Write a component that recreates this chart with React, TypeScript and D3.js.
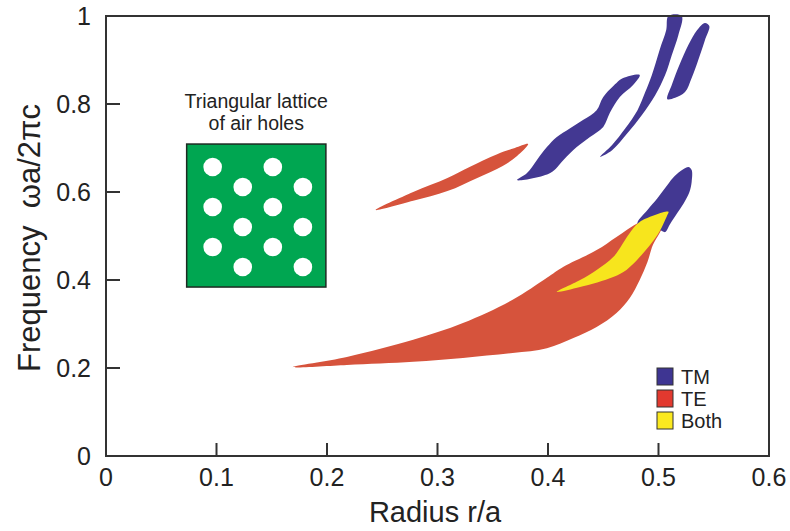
import React from 'react';
import * as d3 from 'd3';

// gap map regions, [r/a, ωa/2πc]
const teLower: [number, number][] = [
  [0.169, 0.202], [0.218, 0.225], [0.278, 0.264], [0.323, 0.302], [0.368, 0.355],
  [0.399, 0.405], [0.414, 0.43], [0.444, 0.468], [0.462, 0.498], [0.483, 0.532],
  [0.509, 0.555], [0.507, 0.536], [0.501, 0.507], [0.495, 0.48], [0.49, 0.441],
  [0.483, 0.4], [0.474, 0.359], [0.462, 0.325], [0.444, 0.293], [0.423, 0.268],
  [0.399, 0.245], [0.368, 0.234], [0.323, 0.223], [0.278, 0.214], [0.218, 0.207],
];
const teUpper: [number, number][] = [
  [0.244, 0.559], [0.278, 0.6], [0.309, 0.632], [0.329, 0.657], [0.354, 0.686],
  [0.37, 0.7], [0.382, 0.709], [0.372, 0.682], [0.359, 0.659], [0.336, 0.632],
  [0.309, 0.602], [0.278, 0.58],
];
const tmMiddle: [number, number][] = [
  [0.372, 0.627], [0.402, 0.643], [0.414, 0.673], [0.426, 0.702], [0.438, 0.725],
  [0.45, 0.748], [0.456, 0.78], [0.465, 0.816], [0.477, 0.843], [0.483, 0.866],
  [0.468, 0.859], [0.462, 0.848], [0.45, 0.816], [0.444, 0.786], [0.432, 0.764],
  [0.42, 0.745], [0.408, 0.725], [0.399, 0.702], [0.39, 0.673], [0.381, 0.643],
];
const tmStrandA: [number, number][] = [
  [0.447, 0.68], [0.458, 0.707], [0.47, 0.745], [0.481, 0.786], [0.488, 0.827],
  [0.494, 0.866], [0.501, 0.923], [0.507, 0.968], [0.509, 1.0], [0.521, 1.0],
  [0.518, 0.957], [0.512, 0.911], [0.506, 0.866], [0.497, 0.82], [0.485, 0.775],
  [0.472, 0.734], [0.458, 0.695],
];
const tmStrandB: [number, number][] = [
  [0.508, 0.811], [0.512, 0.843], [0.519, 0.889], [0.527, 0.934], [0.535, 0.968],
  [0.542, 0.984], [0.546, 0.977], [0.542, 0.945], [0.536, 0.9], [0.53, 0.859],
  [0.524, 0.827], [0.515, 0.814],
];
const tmLower: [number, number][] = [
  [0.481, 0.527], [0.49, 0.559], [0.499, 0.586], [0.506, 0.609], [0.513, 0.632],
  [0.52, 0.648], [0.527, 0.657], [0.53, 0.65], [0.53, 0.623], [0.528, 0.6],
  [0.523, 0.575], [0.517, 0.552], [0.51, 0.525], [0.506, 0.509], [0.501, 0.514],
];
const both: [number, number][] = [
  [0.408, 0.373], [0.429, 0.384], [0.459, 0.407], [0.471, 0.423], [0.483, 0.452],
  [0.499, 0.502], [0.508, 0.548], [0.509, 0.555], [0.483, 0.532], [0.474, 0.507],
  [0.459, 0.452], [0.444, 0.423], [0.429, 0.4],
];

const xTicks = [0, 0.1, 0.2, 0.3, 0.4, 0.5, 0.6];
const yTicks = [0, 0.2, 0.4, 0.6, 0.8, 1];
const yTickLabels = ['0', '0.2', '0.4', '0.6', '0.8', '1'];

const legendItems = [
  { label: 'TM', color: '#3e3592' },
  { label: 'TE', color: '#e2392f' },
  { label: 'Both', color: '#fbe920' },
];

// inset: lattice of holes (column, row) in the green square
const holeCols = [0, 1, 2, 3];
const holeRows = [0, 1, 2, 3, 4, 5];

const W = 790;
const H = 531;
const font = '"Liberation Sans", Arial, sans-serif';

export default function App() {
  const x = d3.scaleLinear().domain([0, 0.6]).range([106, 769]);
  const y = d3.scaleLinear().domain([0, 1]).range([456, 16]);

  const area = d3
    .line<[number, number]>()
    .x((d) => x(d[0]))
    .y((d) => y(d[1]))
    .curve(d3.curveCatmullRomClosed.alpha(0.5));

  const teColor = '#d6533c';
  const tmColor = '#433892';
  const bothColor = '#f7e51d';

  // inset square in data units
  const box = { r0: 0.073, r1: 0.199, f0: 0.384, f1: 0.709 };
  const bx0 = x(box.r0);
  const bx1 = x(box.r1);
  const by0 = y(box.f1);
  const by1 = y(box.f0);
  const hx = d3.scaleLinear().domain([0, 3]).range([bx0 + 26, bx1 - 23]);
  const hy = d3.scaleLinear().domain([0, 5]).range([by0 + 23, by1 - 20]);
  const holes: { cx: number; cy: number }[] = [];
  holeRows.forEach((r) => {
    holeCols.forEach((c) => {
      if ((c + r) % 2 === 0) holes.push({ cx: hx(c), cy: hy(r) });
    });
  });

  return (
    <svg
      width={W}
      height={H}
      style={{ position: 'absolute', left: 0, top: 0, background: '#fff' }}
      fontFamily={font}
    >
      <rect width={W} height={H} fill="#fff" />

      {/* regions */}
      <path d={area(teLower) || ''} fill={teColor} />
      <path d={area(teUpper) || ''} fill={teColor} />
      <path d={area(tmMiddle) || ''} fill={tmColor} />
      <path d={area(tmStrandA) || ''} fill={tmColor} />
      <path d={area(tmStrandB) || ''} fill={tmColor} />
      <path d={area(tmLower) || ''} fill={tmColor} />
      <path d={area(both) || ''} fill={bothColor} />

      {/* frame */}
      <rect
        x={x(0)}
        y={y(1)}
        width={x(0.6) - x(0)}
        height={y(0) - y(1)}
        fill="none"
        stroke="#333"
        strokeWidth={2}
      />
      {yTicks.filter((t) => t > 0 && t < 1).map((t) => (
        <line key={'yt' + t} x1={x(0)} x2={x(0) + 14} y1={y(t)} y2={y(t)} stroke="#333" strokeWidth={2} />
      ))}
      {xTicks.filter((t) => t > 0 && t < 0.6).map((t) => (
        <line key={'xt' + t} x1={x(t)} x2={x(t)} y1={y(0)} y2={y(0) - 13} stroke="#333" strokeWidth={2} />
      ))}

      {/* tick labels */}
      {yTicks.map((t, i) => (
        <text key={'yl' + t} x={91} y={y(t)} dy="0.36em" textAnchor="end" fontSize={25} fill="#222">
          {yTickLabels[i]}
        </text>
      ))}
      {xTicks.map((t) => (
        <text key={'xl' + t} x={x(t)} y={486} textAnchor="middle" fontSize={25} fill="#222">
          {String(t)}
        </text>
      ))}

      {/* axis titles */}
      <text x={435} y={522} textAnchor="middle" fontSize={29} fill="#222">
        Radius r/a
      </text>
      <text
        transform={`translate(40,238) rotate(-90)`}
        textAnchor="middle"
        fontSize={31}
        fill="#222"
      >
        Frequency{'\u00a0\u00a0'}ωa/2πc
      </text>

      {/* inset */}
      <text x={(bx0 + bx1) / 2} y={108} textAnchor="middle" fontSize={19.5} fill="#222">
        Triangular lattice
      </text>
      <text x={(bx0 + bx1) / 2} y={130} textAnchor="middle" fontSize={19.5} fill="#222">
        of air holes
      </text>
      <rect x={bx0} y={by0} width={bx1 - bx0} height={by1 - by0} fill="#00a651" stroke="#1e2a22" strokeWidth={1.5} />
      {holes.map((h, i) => (
        <circle key={'h' + i} cx={h.cx} cy={h.cy} r={9.3} fill="#fff" />
      ))}

      {/* legend */}
      {legendItems.map((d, i) => (
        <g key={d.label} transform={`translate(657,${368 + i * 22})`}>
          <rect width={16} height={17} fill={d.color} stroke="#333" strokeWidth={1} />
          <text x={24} y={16} fontSize={20} fill="#222">
            {d.label}
          </text>
        </g>
      ))}
    </svg>
  );
}
